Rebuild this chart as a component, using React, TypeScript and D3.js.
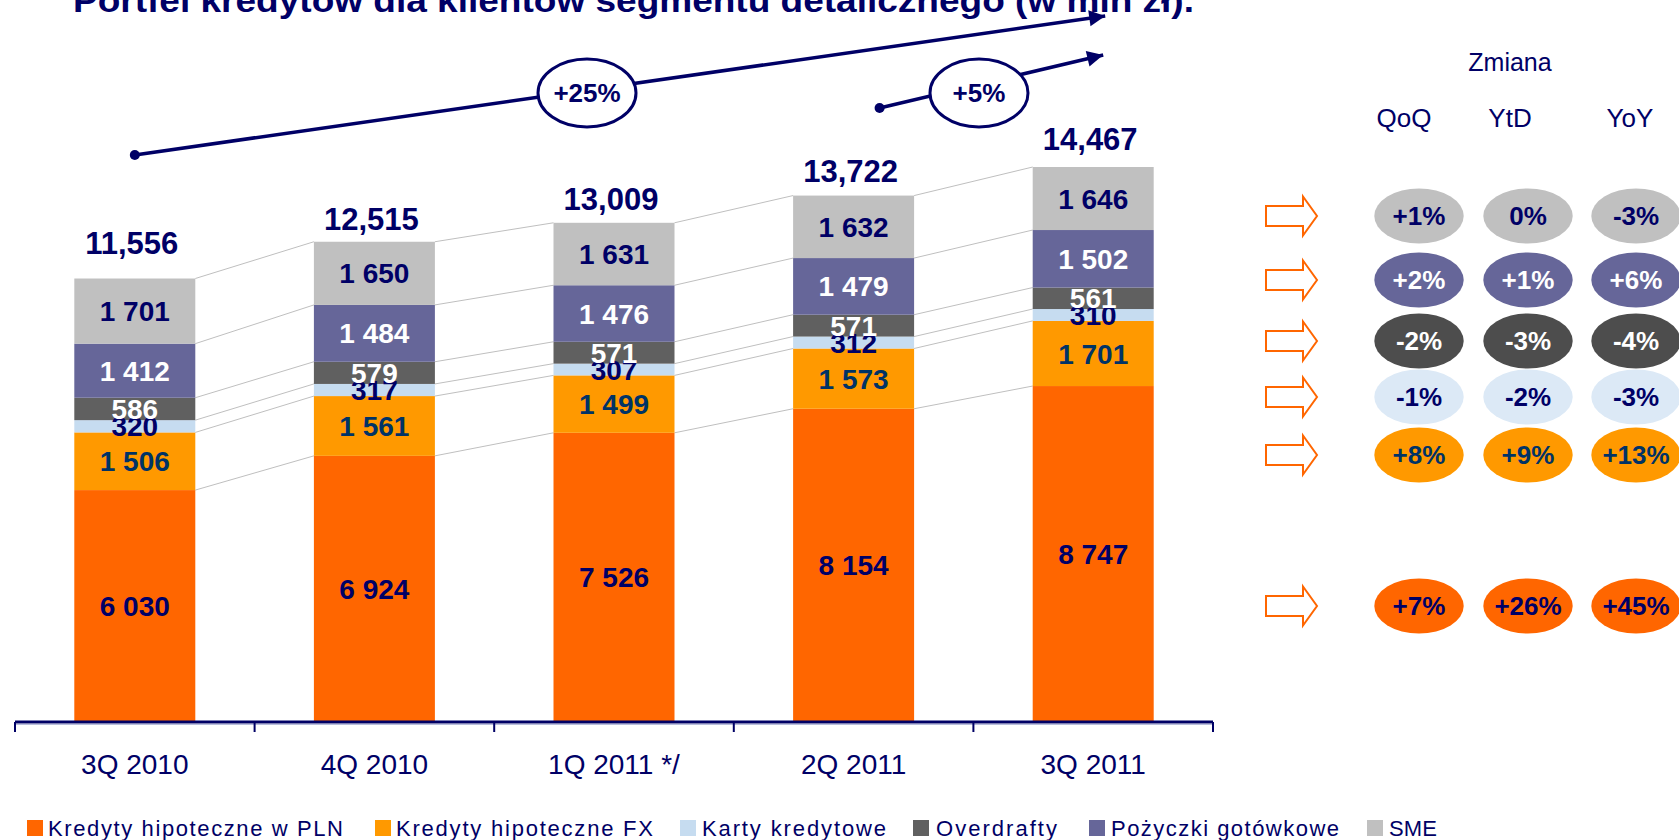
import React from "react";
import * as d3 from "d3";

// ---------- DATA ----------
const categories = ["3Q 2010", "4Q 2010", "1Q 2011 */", "2Q 2011", "3Q 2011"];
const seriesKeys = ["pln", "fx", "cards", "overdraft", "cash", "sme"];
const seriesNames = [
  "Kredyty hipoteczne w PLN",
  "Kredyty hipoteczne FX",
  "Karty kredytowe",
  "Overdrafty",
  "Pożyczki gotówkowe",
  "SME",
];
const mortgagePLN = [6030, 6924, 7526, 8154, 8747];
const mortgageFX = [1506, 1561, 1499, 1573, 1701];
const creditCards = [320, 317, 307, 312, 310];
const overdrafts = [586, 579, 571, 571, 561];
const cashLoans = [1412, 1484, 1476, 1479, 1502];
const sme = [1701, 1650, 1631, 1632, 1646];
const totals = ["11,556", "12,515", "13,009", "13,722", "14,467"];
const totalValues = [11556, 12515, 13009, 13722, 14467];

const title = "Portfel kredytów dla klientów segmentu detalicznego (w mln zł).";
const growthLabels = ["+25%", "+5%"];
const changeTitle = "Zmiana";
const changeHeaders = ["QoQ", "YtD", "YoY"];
// rows top to bottom: SME, cash loans, overdrafts, cards, FX, PLN
const changeSME = ["+1%", "0%", "-3%"];
const changeCash = ["+2%", "+1%", "+6%"];
const changeOverdraft = ["-2%", "-3%", "-4%"];
const changeCards = ["-1%", "-2%", "-3%"];
const changeFX = ["+8%", "+9%", "+13%"];
const changePLN = ["+7%", "+26%", "+45%"];

// ---------- STYLE / LAYOUT ----------
const NAVY = "#000066";
const FONT = "'Liberation Sans', Arial, Helvetica, sans-serif";
const seriesColors = ["#FF6600", "#FF9900", "#C6DCF0", "#606060", "#666699", "#C0C0C0"];
const labelColors = [NAVY, "#003366", NAVY, "#FFFFFF", "#FFFFFF", NAVY];
const totalLift = [25, 12, 13, 14, 17];

const rowFills = ["#C0C0C0", "#666699", "#4D4D4D", "#DCE9F6", "#FF9900", "#FF6600"];
const rowText = [NAVY, "#FFFFFF", "#FFFFFF", NAVY, "#003366", NAVY];
const rowY = [216, 280, 341, 397, 455, 606];
const colX = [1419, 1528, 1636];
const headerX = [1404, 1510, 1630];

const legendLayout = [
  { sx: 27, tx: 48, tw: 295 },
  { sx: 375, tx: 396, tw: 257 },
  { sx: 680, tx: 702, tw: 184 },
  { sx: 913, tx: 936, tw: 121 },
  { sx: 1089, tx: 1111, tw: 228 },
  { sx: 1367, tx: 1389, tw: 48 },
];

export default function App() {
  const W = 1679;
  const H = 840;
  const baseY = 721;

  const x = d3
    .scaleBand<string>()
    .domain(categories)
    .range([15, 1213])
    .paddingInner(0.495)
    .paddingOuter(0.2475);

  const y = d3
    .scaleLinear()
    .domain([0, d3.max(totalValues) as number])
    .range([baseY, 167]);

  const table = categories.map((c, i) => ({
    cat: c,
    pln: mortgagePLN[i],
    fx: mortgageFX[i],
    cards: creditCards[i],
    overdraft: overdrafts[i],
    cash: cashLoans[i],
    sme: sme[i],
  }));

  const stacked = d3.stack<any>().keys(seriesKeys)(table);
  const bw = x.bandwidth();
  const cx = (c: string) => (x(c) as number) + bw / 2;

  const changeRows = [changeSME, changeCash, changeOverdraft, changeCards, changeFX, changePLN];

  // growth arrows
  const arrows = [
    { x1: cx(categories[0]), y1: 155, x2: cx(categories[4]) + 12, y2: 16, ex: 587, ey: 93 },
    { x1: cx(categories[3]) + 26, y1: 108, x2: cx(categories[4]) + 10, y2: 55, ex: 979, ey: 93 },
  ];

  const arrowHead = (x1: number, y1: number, x2: number, y2: number) => {
    const ang = Math.atan2(y2 - y1, x2 - x1);
    const len = 16;
    const hw = 8;
    const bx = x2 - len * Math.cos(ang);
    const by = y2 - len * Math.sin(ang);
    const px = -Math.sin(ang) * hw;
    const py = Math.cos(ang) * hw;
    return `M${x2},${y2} L${bx + px},${by + py} L${bx - px},${by - py} Z`;
  };

  const hollowArrow = (x0: number, cy: number) =>
    `M${x0},${cy - 10} L${x0 + 37},${cy - 10} L${x0 + 37},${cy - 19.5} L${x0 + 51},${cy} L${x0 + 37},${cy + 19.5} L${x0 + 37},${cy + 10} L${x0},${cy + 10} Z`;

  const ticks = [...categories.map((c) => (x(c) as number) - x.step() * 0.2475), 1213];

  return (
    <svg
      width={W}
      height={H}
      style={{ position: "absolute", left: 0, top: 0, background: "#fff" }}
      fontFamily={FONT}
    >
      <rect width={W} height={H} fill="#fff" />
      {/* title (clipped at top) */}
      <text x={73} y={12} fill={NAVY} fontWeight="bold" fontSize={33} textLength={1121} lengthAdjust="spacingAndGlyphs">
        {title}
      </text>

      {/* connector lines */}
      {stacked.map((s, si) =>
        categories.slice(0, -1).map((c, i) => {
          const x1 = (x(c) as number) + bw;
          const x2 = x(categories[i + 1]) as number;
          return (
            <line
              key={`c${si}-${i}`}
              x1={x1}
              x2={x2}
              y1={y(s[i][1])}
              y2={y(s[i + 1][1])}
              stroke="#BFBFBF"
              strokeWidth={1}
            />
          );
        })
      )}

      {/* bars */}
      {stacked.map((s, si) =>
        s.map((d, i) => (
          <rect
            key={`b${si}-${i}`}
            x={x(categories[i])}
            width={bw}
            y={y(d[1])}
            height={y(d[0]) - y(d[1])}
            fill={seriesColors[si]}
          />
        ))
      )}

      {/* segment labels */}
      {stacked.map((s, si) =>
        s.map((d, i) => (
          <text
            key={`l${si}-${i}`}
            x={cx(categories[i])}
            y={(y(d[0]) + y(d[1])) / 2}
            dy="0.36em"
            textAnchor="middle"
            fontWeight="bold"
            fontSize={28}
            fill={labelColors[si]}
          >
            {d3.format(",")(d[1] - d[0]).replace(",", " ")}
          </text>
        ))
      )}

      {/* totals */}
      {categories.map((c, i) => (
        <text
          key={`t${i}`}
          x={cx(c) - 3}
          y={y(stacked[5][i][1]) - totalLift[i]}
          textAnchor="middle"
          fontWeight="bold"
          fontSize={31}
          fill={NAVY}
        >
          {totals[i]}
        </text>
      ))}

      {/* axis */}
      <line x1={15} x2={1213} y1={722} y2={722} stroke={NAVY} strokeWidth={3} />
      <line x1={15} x2={1213} y1={724.5} y2={724.5} stroke="#B8BEDC" strokeWidth={1} />
      {ticks.map((t, i) => (
        <line key={`tk${i}`} x1={t} x2={t} y1={722} y2={732} stroke={NAVY} strokeWidth={2} />
      ))}
      {categories.map((c) => (
        <text key={`cat${c}`} x={cx(c)} y={774} textAnchor="middle" fontSize={28} fill={NAVY}>
          {c}
        </text>
      ))}

      {/* growth arrows */}
      {arrows.map((a, i) => (
        <g key={`ga${i}`}>
          <line x1={a.x1} y1={a.y1} x2={a.x2} y2={a.y2} stroke={NAVY} strokeWidth={3.5} />
          <circle cx={a.x1} cy={a.y1} r={5} fill={NAVY} />
          <path d={arrowHead(a.x1, a.y1, a.x2, a.y2)} fill={NAVY} />
          <ellipse cx={a.ex} cy={a.ey} rx={49} ry={34} fill="#fff" stroke={NAVY} strokeWidth={3} />
          <text x={a.ex} y={a.ey} dy="0.36em" textAnchor="middle" fontWeight="bold" fontSize={26} fill={NAVY}>
            {growthLabels[i]}
          </text>
        </g>
      ))}

      {/* change panel */}
      <text x={1510} y={71} textAnchor="middle" fontSize={25} fill={NAVY}>
        {changeTitle}
      </text>
      {changeHeaders.map((h, j) => (
        <text key={`h${j}`} x={headerX[j]} y={127} textAnchor="middle" fontSize={26} fill={NAVY}>
          {h}
        </text>
      ))}
      {changeRows.map((row, r) => (
        <g key={`r${r}`}>
          <path d={hollowArrow(1266, rowY[r])} fill="#fff" stroke="#FF6600" strokeWidth={2} />
          {row.map((v, j) => (
            <g key={`e${r}-${j}`}>
              <ellipse cx={colX[j]} cy={rowY[r]} rx={44.7} ry={27.5} fill={rowFills[r]} />
              <text
                x={colX[j]}
                y={rowY[r]}
                dy="0.36em"
                textAnchor="middle"
                fontWeight="bold"
                fontSize={26}
                fill={rowText[r]}
              >
                {v}
              </text>
            </g>
          ))}
        </g>
      ))}

      {/* legend */}
      {seriesNames.map((n, i) => (
        <g key={`lg${i}`}>
          <rect x={legendLayout[i].sx} y={820} width={16} height={16} fill={seriesColors[i]} />
          <text
            x={legendLayout[i].tx}
            y={836}
            fontSize={22}
            fill={NAVY}
            textLength={legendLayout[i].tw}
            lengthAdjust="spacing"
          >
            {n}
          </text>
        </g>
      ))}
    </svg>
  );
}
